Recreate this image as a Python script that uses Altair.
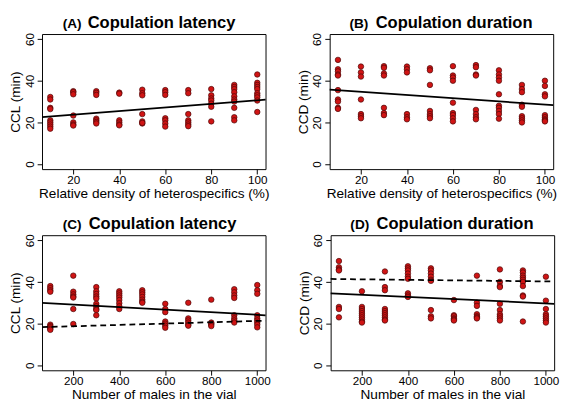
import altair as alt
import pandas as pd

FONT = "Liberation Sans"

# ---------- data ----------
# (A) CCL vs relative density of heterospecifics
A_pts = {
    10: [32.2, 31, 27, 26.4, 21, 20, 19, 18, 17],
    20: [35, 34.5, 33.5, 23.3, 20, 19, 18.5],
    30: [35, 34.2, 33.2, 21.8, 21, 20.2, 19.5],
    40: [34.3, 33.8, 21, 20, 19, 18.6],
    50: [35.7, 34, 33, 24, 20.5, 19.5, 19.8],
    60: [35.5, 34.5, 33.2, 22, 21, 19.5, 18],
    70: [35.5, 34, 24, 21, 20, 19, 18.2],
    80: [36, 33, 31.5, 30.5, 29, 27.5, 20.5],
    90: [38, 37, 36, 34.5, 32.5, 31, 30, 27, 22.5, 21],
    100: [43, 39, 38, 37, 36, 34, 33, 32, 30.5, 25],
}
# (B) CCD vs relative density of heterospecifics
B_pts = {
    10: [50, 45.5, 44.5, 43, 42.5, 35.5, 31, 30, 27, 26.5],
    20: [46.8, 44, 42, 31, 24, 23, 22],
    30: [47, 46.2, 43.5, 42.5, 27, 24.5, 23.5],
    40: [46.8, 45.5, 44, 24, 22.5, 21.5],
    50: [46, 45, 38, 25.5, 24, 23, 22],
    60: [47, 42.5, 41.5, 40, 29.5, 24.5, 23.5, 22, 20.5],
    70: [47.5, 46.5, 43, 42.5, 26, 24, 22.5, 21.5],
    80: [45, 43, 41.5, 40, 33.5, 28, 27, 25.5, 24, 21.8],
    90: [38, 36, 34.5, 28.5, 27.5, 23, 22, 21, 20],
    100: [40, 37.5, 33.5, 32.5, 23.5, 22.5, 21.5, 21, 20.5],
}
# (C) CCL vs number of males
C_pts = {
    100: [38, 37, 36, 35.3, 19.5, 18.8, 18.2, 17.5, 17],
    200: [43, 35.3, 34, 33, 32.5, 27, 19.8],
    300: [37.5, 35.5, 34.2, 33, 32, 29.5, 28.3, 27, 26.5, 24],
    400: [35.5, 34.5, 33.5, 32.5, 31.3, 29.8, 28.3, 27],
    500: [36, 35, 34, 32.8, 31.5, 30.5, 30],
    600: [29.5, 27, 25.5, 21, 20, 19, 18],
    700: [30, 22.5, 21.5, 20.5, 19.5, 19],
    800: [31.5, 20.5, 20, 19.5, 18.8],
    900: [36.5, 35, 33.5, 32.3, 24, 22.5, 21.5, 20.5],
    1000: [38.5, 36, 34.3, 24, 22.5, 21.5, 20.5, 19.5, 18.2],
}
# (D) CCD vs number of males
D_pts = {
    100: [50, 47, 46, 45.5, 28, 27, 23],
    200: [35.5, 28, 27, 26, 25, 24, 23, 22, 21, 20.5],
    300: [45, 37.5, 36, 27, 26, 25, 24, 23, 22, 21.5],
    400: [47.5, 46.5, 45.5, 44, 42.5, 41.5, 34.5, 33.5, 32.8],
    500: [46.5, 45.5, 44, 42.5, 41, 40.5, 26.5, 23.5, 22.5],
    600: [31.3, 24, 23.5, 22.5, 22, 21.5],
    700: [43, 30, 28.5, 24.5, 23.5, 23, 22.5],
    800: [46, 40, 38, 37.5, 29.5, 26.5, 24.5, 23.5, 22.5, 21.5],
    900: [45.5, 44.5, 43, 42, 41, 40, 38, 33.5, 33, 21],
    1000: [42.5, 31, 27, 24.5, 23.5, 22.5, 21.5, 20.5],
}

# fitted lines: values read at the left and right edges of each panel
density_edges = [6.4, 103.6]
males_edges = [64, 1036]
A_solid = [22.6, 30.9]
B_solid = [35.7, 28.3]
C_solid = [29.9, 24.0]
C_dashed = [18.3, 21.4]
D_solid = [34.5, 29.5]
D_dashed = [41.4, 40.2]

y_domain = [-2.4, 62.4]
y_ticks = [0, 10, 20, 30, 40, 50, 60]
density_ticks = [20, 40, 60, 80, 100]
males_ticks = [200, 400, 600, 800, 1000]

W, H = 230, 139


def to_df(pts):
    rows = [(x, y) for x, ys in pts.items() for y in ys]
    return pd.DataFrame(rows, columns=["x", "y"])


def panel(pts, lines, edges, xticks, xtitle, ytitle, letter, title, letter_x, title_x):
    xs = alt.Scale(domain=edges, zero=False, nice=False)
    ys = alt.Scale(domain=y_domain, zero=False, nice=False)
    xax = alt.Axis(values=xticks, title=xtitle, format="d")
    yax = alt.Axis(values=y_ticks, title=ytitle, labelAngle=270, format="d")

    points = alt.Chart(to_df(pts)).mark_point(
        shape="circle", filled=True, fill="#d01414", stroke="#4a0808",
        strokeWidth=0.7, opacity=1, size=32,
    ).encode(
        x=alt.X("x:Q", scale=xs, axis=xax),
        y=alt.Y("y:Q", scale=ys, axis=yax),
    )
    layers = [points]
    for vals, dash in lines:
        ldf = pd.DataFrame({"x": edges, "y": vals})
        kw = dict(color="black", strokeWidth=1.8)
        if dash:
            kw["strokeDash"] = [6, 4]
        layers.append(
            alt.Chart(ldf).mark_line(**kw).encode(
                x=alt.X("x:Q", scale=xs), y=alt.Y("y:Q", scale=ys)
            )
        )
    tdf = pd.DataFrame({"t": [letter]})
    layers.append(alt.Chart(tdf).mark_text(
        font=FONT, fontSize=14, fontWeight="bold", align="center",
        baseline="alphabetic", color="black",
    ).encode(x=alt.value(letter_x), y=alt.value(-6), text="t:N"))
    tdf2 = pd.DataFrame({"t": [title]})
    layers.append(alt.Chart(tdf2).mark_text(
        font=FONT, fontSize=17, fontWeight="bold", align="center",
        baseline="alphabetic", color="black",
    ).encode(x=alt.value(title_x), y=alt.value(-6), text="t:N"))
    return alt.layer(*layers).properties(width=W, height=H)


pA = panel(A_pts, [(A_solid, False)], density_edges, density_ticks,
           "Relative density of heterospecifics (%)", "CCL (min)", "(A)",
           "Copulation latency", 31, 123)
pB = panel(B_pts, [(B_solid, False)], density_edges, density_ticks,
           "Relative density of heterospecifics (%)", "CCD (min)", "(B)",
           "Copulation duration", 30, 128)
pC = panel(C_pts, [(C_solid, False), (C_dashed, True)], males_edges, males_ticks,
           "Number of males in the vial", "CCL (min)", "(C)",
           "Copulation latency", 31, 124)
pD = panel(D_pts, [(D_solid, False), (D_dashed, True)], males_edges, males_ticks,
           "Number of males in the vial", "CCD (min)", "(D)",
           "Copulation duration", 30, 128)

chart = alt.vconcat(
    alt.hconcat(pA, pB, spacing=26),
    alt.hconcat(pC, pD, spacing=26),
    spacing=14,
).properties(padding=0, background="white").configure_view(
    stroke="black", strokeWidth=1
).configure_axis(
    domain=False, grid=False, tickColor="black", tickSize=5, tickWidth=1,
    labelFont=FONT, titleFont=FONT, labelFontSize=12, titleFontSize=14,
    labelColor="black", titleColor="black", titleFontWeight="normal",
    labelPadding=1, titlePadding=1,
)

chart.save("out.html", embed_options={"renderer": "svg", "actions": False})
